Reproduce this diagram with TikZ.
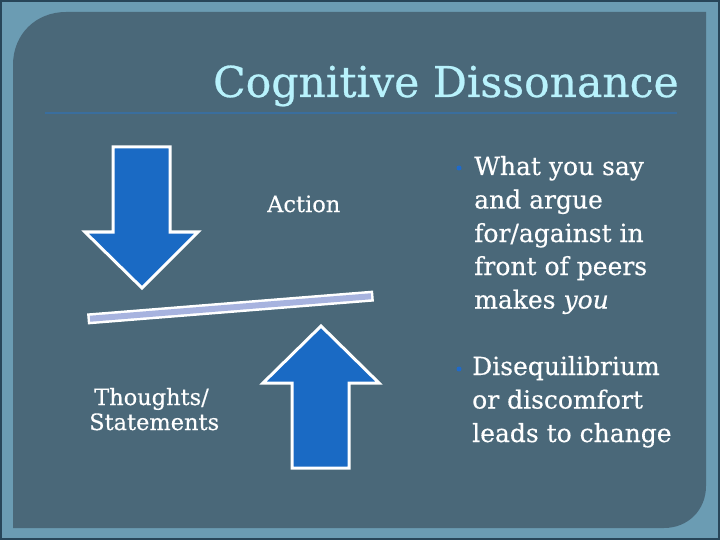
\documentclass[tikz,border=0pt]{standalone}
\usepackage{fontspec}
\setmainfont{DejaVu Serif}
\newfontfamily\heavyserif[FakeBold=0.4]{DejaVu Serif}
\newfontfamily\titleserif[FakeBold=0.6]{DejaVu Serif}
\definecolor{outerdark}{HTML}{284659}
\definecolor{framecol}{HTML}{6B9CB3}
\definecolor{panelcol}{HTML}{4A6879}
\definecolor{titlecol}{HTML}{B8F2FC}
\definecolor{rulecol}{HTML}{3A6E9E}
\definecolor{arrowblue}{HTML}{1A6AC4}
\definecolor{barcol}{HTML}{A7B3DF}
\definecolor{bulletcol}{HTML}{1F6ACB}
\tikzset{
  bodytext/.style={anchor=base west, inner sep=0pt, text=white, font=\heavyserif\fontsize{25}{28}\selectfont},
  smalltext/.style={anchor=base west, inner sep=0pt, text=white, font=\heavyserif\fontsize{22.5}{26}\selectfont},
  bigarrow/.style={fill=arrowblue, draw=white, line width=3pt, line join=miter},
  bulletdot/.style={circle, fill=bulletcol, inner sep=0pt, minimum size=5pt}
}
\begin{document}
\begin{tikzpicture}[x=1pt,y=-1pt]
\useasboundingbox (0,0) rectangle (720,540);
% frame
\fill[outerdark] (0,0) rectangle (720,540);
\fill[framecol] (2,2) rectangle (718,538);
\fill[panelcol] (13,528) -- (13,65) .. controls (13,34) and (36,12) .. (66,12) -- (706,12) -- (706,486) .. controls (706,510) and (688,528) .. (664,528) -- cycle;
% title
\node[anchor=base west, inner sep=0pt, text=titlecol, font=\titleserif\fontsize{42.5}{48}\selectfont] (title) at (213,97) {Cognitive Dissonance};
\coordinate (ruleL) at (45,113);
\coordinate (ruleR) at (677,113);
\draw[rulecol, line width=2pt] (ruleL) -- (ruleR);
% down arrow
\draw[bigarrow] (113,147) -- (170,147) -- (170,232) -- (198,232) -- (142,288) -- (85,232) -- (113,232) -- cycle;
% up arrow
\draw[bigarrow] (321,326) -- (379,383) -- (349,383) -- (349,468) -- (292,468) -- (292,383) -- (263,383) -- cycle;
% bar
\coordinate (barL) at (93,318.5);
\coordinate (barR) at (368,296.5);
\draw[white, line width=11pt, line cap=rect] (barL) -- (barR);
\draw[barcol, line width=6pt, line cap=rect] (barL) -- (barR);
% labels
\node[smalltext] (action) at (267,212) {Action};
\node[smalltext] (thoughts) at (94,405) {Thoughts/};
\node[smalltext] (statements) at (89,430) {Statements};
% bullets
\node[bulletdot] (b1) at (459,168) {};
\node[bulletdot] (b2) at (459,369) {};
\node[bodytext] (l1) at (474,175) {What you say};
\node[bodytext] (l2) at (474,208.5) {and argue};
\node[bodytext] (l3) at (474,242) {for/against in};
\node[bodytext] (l4) at (474,275) {front of peers};
\node[bodytext] (l5) at (474,308.5) {makes \textit{you}};
\node[bodytext] (m1) at (472,375) {Disequilibrium};
\node[bodytext] (m2) at (472,408.5) {or discomfort};
\node[bodytext] (m3) at (472,442) {leads to change};
\end{tikzpicture}
\end{document}
